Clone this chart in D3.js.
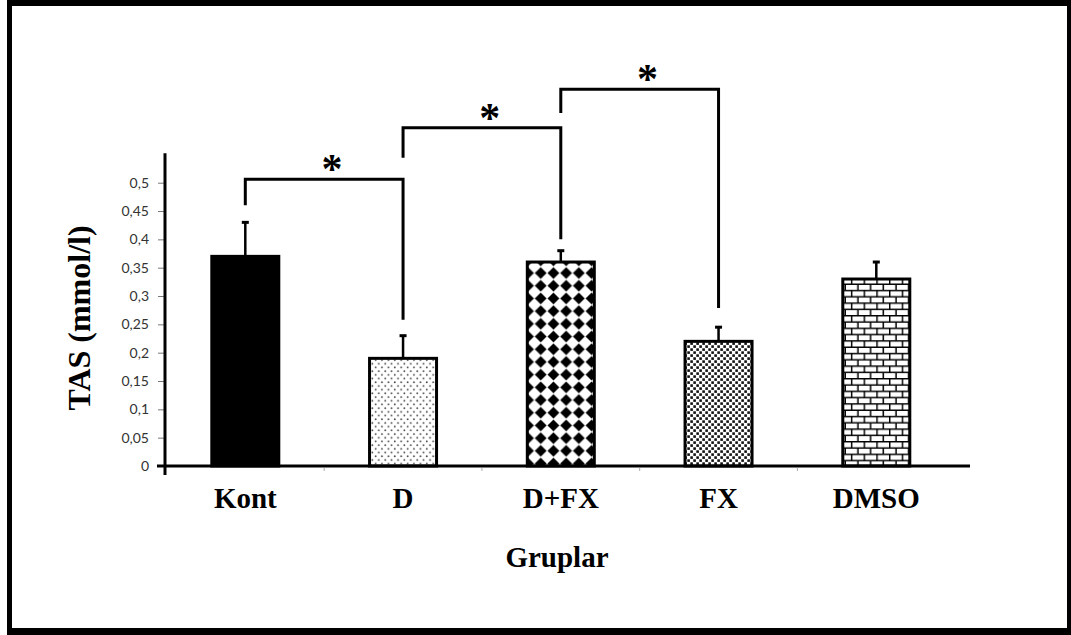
<!DOCTYPE html>
<html>
<head>
<meta charset="utf-8">
<script src="https://cdn.jsdelivr.net/npm/d3@7"></script>
<style>
  html, body { margin: 0; padding: 0; background: #fff; }
  svg { display: block; }
</style>
</head>
<body>
<svg id="chart" width="1071" height="635"></svg>
<script>
// ---- data ----
const categories = ["Kont", "D", "D+FX", "FX", "DMSO"];
const values     = [0.37, 0.19, 0.36, 0.22, 0.33];
const errors     = [0.06, 0.04, 0.02, 0.025, 0.03];
const patterns   = ["solid", "dots", "diamonds", "confetti", "bricks"];
const yTicks     = [0, 0.05, 0.1, 0.15, 0.2, 0.25, 0.3, 0.35, 0.4, 0.45, 0.5];
const bracketFrom  = ["Kont", "D", "D+FX"];
const bracketTo    = ["D", "D+FX", "FX"];
const bracketTop   = [0.506, 0.597, 0.665];
const bracketLeft  = [0.46, 0.544, 0.623];
const bracketRight = [0.258, 0.40, 0.279];
const yTitle = "TAS (mmol/l)";
const xTitle = "Gruplar";

// ---- layout ----
const svg = d3.select("#chart");
const W = 1071, H = 635;

// frame
svg.append("rect").attr("x", 0).attr("y", 0).attr("width", W).attr("height", H).attr("fill", "#fff");
svg.append("rect").attr("x", 7).attr("y", 0).attr("width", W - 7).attr("height", H).attr("fill", "#000");
svg.append("rect").attr("x", 12).attr("y", 6).attr("width", 1055).attr("height", 622).attr("fill", "#fff");

const axisX = 165, axisY = 466;

const y = d3.scaleLinear().domain([0, 0.5]).range([axisY, 182.7]);
const x = d3.scaleBand().domain(categories)
  .range([axisX + 3, 953.6]).paddingInner(0.5753).paddingOuter(0.2777);

// ---- patterns ----
const defs = svg.append("defs");
// dots
const pd = defs.append("pattern").attr("id", "dots").attr("patternUnits", "userSpaceOnUse")
  .attr("width", 6.4).attr("height", 7.4);
pd.append("rect").attr("width", 6.4).attr("height", 7.4).attr("fill", "#fff");
pd.append("circle").attr("cx", 1.2).attr("cy", 1.2).attr("r", 0.9).attr("fill", "#444");
pd.append("circle").attr("cx", 4.4).attr("cy", 4.9).attr("r", 0.9).attr("fill", "#444");
// diamonds
const dd = 12.7;
const pdm = defs.append("pattern").attr("id", "diamonds").attr("patternUnits", "userSpaceOnUse")
  .attr("width", dd).attr("height", dd).attr("x", 1).attr("y", 0);
pdm.append("rect").attr("width", dd).attr("height", dd).attr("fill", "#fff");
const a = 5.9, c = dd / 2;
pdm.append("path").attr("d", `M${c},${c - a}L${c + a},${c}L${c},${c + a}L${c - a},${c}Z`).attr("fill", "#000");
// confetti
const pc = defs.append("pattern").attr("id", "confetti").attr("patternUnits", "userSpaceOnUse")
  .attr("width", 6).attr("height", 6);
pc.append("rect").attr("width", 6).attr("height", 6).attr("fill", "#fff");
pc.append("rect").attr("x", 0.3).attr("y", 0.3).attr("width", 2.6).attr("height", 2.6).attr("fill", "#111");
pc.append("rect").attr("x", 3.3).attr("y", 3.3).attr("width", 2.6).attr("height", 2.6).attr("fill", "#111");
// bricks
const bw = 12.7, bh = 6.3;
const pb = defs.append("pattern").attr("id", "bricks").attr("patternUnits", "userSpaceOnUse")
  .attr("width", bw).attr("height", bh * 2);
pb.append("rect").attr("width", bw).attr("height", bh * 2).attr("fill", "#fff");
pb.append("path")
  .attr("d", `M0,0.7H${bw}M0,${bh + 0.7}H${bw}M0.7,0V${bh}M${bw / 2 + 0.7},${bh}V${bh * 2}`)
  .attr("stroke", "#000").attr("stroke-width", 1.5).attr("fill", "none");

// ---- bars ----
const bars = svg.append("g");
categories.forEach((cat, i) => {
  const x0 = x(cat), w = x.bandwidth();
  const top = y(values[i]);
  bars.append("rect")
    .attr("x", x0).attr("y", top)
    .attr("width", w).attr("height", axisY - top)
    .attr("fill", patterns[i] === "solid" ? "#000" : `url(#${patterns[i]})`)
    .attr("stroke", "#000").attr("stroke-width", 3);
  // error bar
  const cx = x0 + w / 2;
  const et = y(values[i] + errors[i]);
  bars.append("line").attr("x1", cx).attr("x2", cx).attr("y1", top).attr("y2", et)
    .attr("stroke", "#000").attr("stroke-width", 2.5);
  bars.append("line").attr("x1", cx - 3.5).attr("x2", cx + 3.5).attr("y1", et).attr("y2", et)
    .attr("stroke", "#000").attr("stroke-width", 3);
});

// ---- y axis ----
const yAxis = d3.axisLeft(y).tickValues(yTicks)
  .tickFormat(d => String(+d.toFixed(2)).replace(".", ","))
  .tickSizeInner(7).tickSizeOuter(0).tickPadding(9);
const gy = svg.append("g").attr("transform", `translate(${axisX},0)`).call(yAxis);
gy.select(".domain").remove();
gy.selectAll(".tick line").attr("stroke", "#777").attr("stroke-width", 1);
gy.selectAll(".tick text").attr("font-family", "Lato, 'Open Sans', sans-serif")
  .attr("font-size", 14).attr("fill", "#333");

// axis lines
svg.append("line").attr("x1", axisX).attr("x2", axisX).attr("y1", y(0.552)).attr("y2", axisY + 9)
  .attr("stroke", "#000").attr("stroke-width", 3);
svg.append("line").attr("x1", axisX - 8).attr("x2", 970).attr("y1", axisY).attr("y2", axisY)
  .attr("stroke", "#000").attr("stroke-width", 3);

// faint category separator ticks
const step = x.step();
categories.slice(0, -1).forEach((cat) => {
  const sx = x(cat) + x.bandwidth() + (step - x.bandwidth()) / 2;
  svg.append("line").attr("x1", sx).attr("x2", sx).attr("y1", axisY + 2).attr("y2", axisY + 5)
    .attr("stroke", "#aaa").attr("stroke-width", 1);
});

// x category labels
svg.append("g").selectAll("text").data(categories).join("text")
  .attr("x", d => x(d) + x.bandwidth() / 2)
  .attr("y", 508)
  .attr("text-anchor", "middle")
  .attr("font-family", "'Liberation Serif', 'Times New Roman', serif")
  .attr("font-weight", "bold").attr("font-size", 29).attr("fill", "#000")
  .text(d => d);

// axis titles
svg.append("text").attr("x", 557).attr("y", 567).attr("text-anchor", "middle")
  .attr("font-family", "'Liberation Serif', 'Times New Roman', serif")
  .attr("font-weight", "bold").attr("font-size", 29).attr("fill", "#000").text(xTitle);
svg.append("text").attr("transform", "translate(90,318) rotate(-90)")
  .attr("text-anchor", "middle")
  .attr("font-family", "'Liberation Serif', 'Times New Roman', serif")
  .attr("font-weight", "bold").attr("font-size", 32).attr("fill", "#000").text(yTitle);

// ---- significance brackets ----
const gb = svg.append("g");
bracketFrom.forEach((f, i) => {
  const xl = x(f) + x.bandwidth() / 2;
  const xr = x(bracketTo[i]) + x.bandwidth() / 2;
  const yt = y(bracketTop[i]);
  gb.append("path")
    .attr("d", `M${xl},${y(bracketLeft[i])}V${yt}H${xr}V${y(bracketRight[i])}`)
    .attr("fill", "none").attr("stroke", "#000").attr("stroke-width", 3)
    .attr("stroke-linejoin", "miter");
  gb.append("text").attr("x", xl + (xr - xl) * 0.55).attr("y", yt + 4)
    .attr("text-anchor", "middle")
    .attr("font-family", "'Liberation Serif', 'Times New Roman', serif")
    .attr("font-weight", "bold").attr("font-size", 42).attr("fill", "#000")
    .text("*");
});
</script>
</body>
</html>
